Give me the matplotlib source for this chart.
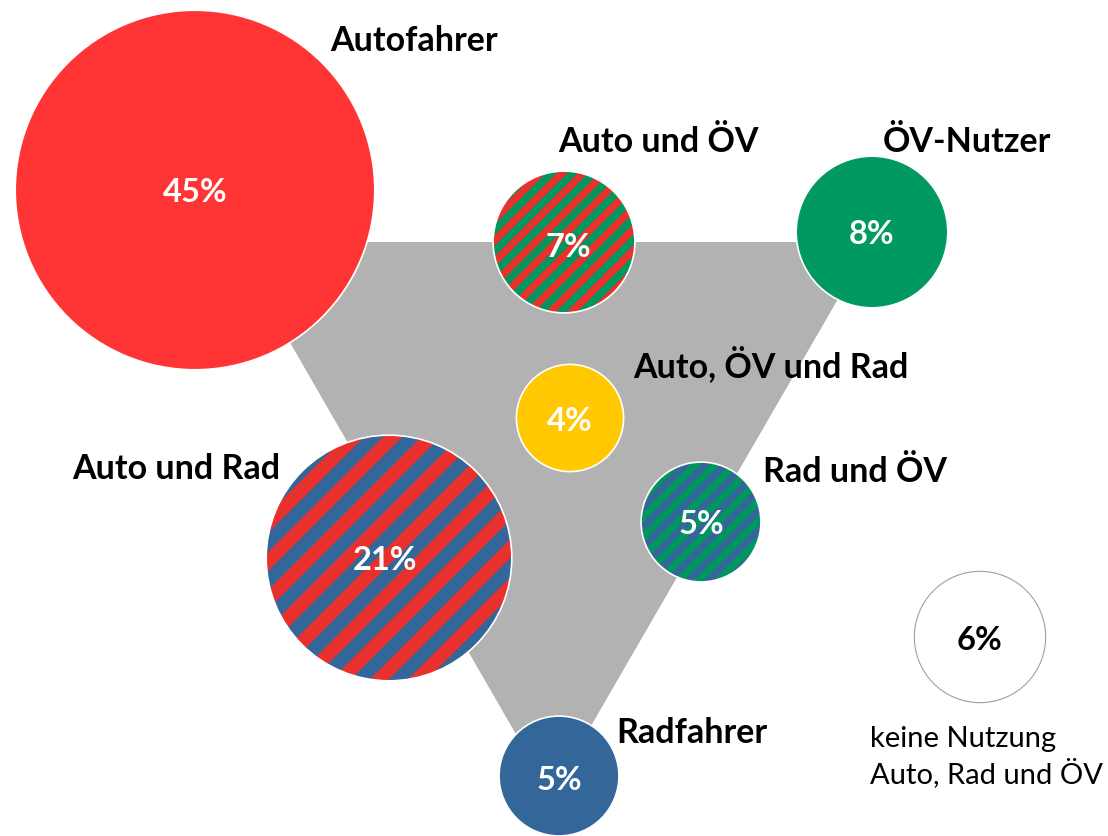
import numpy as np
import matplotlib
import matplotlib.pyplot as plt
from matplotlib.patches import Circle, Polygon

matplotlib.use('agg')

# Werte (Anteile in %) und Beschriftungen
groups = ["Autofahrer", "Auto und ÖV", "ÖV-Nutzer", "Auto, ÖV und Rad",
          "Auto und Rad", "Rad und ÖV", "Radfahrer", "keine Nutzung"]
shares = [45, 7, 8, 4, 21, 5, 5, 6]
colors = [("#FF3535", None), ("#E8312C", "#00975F"), ("#00995F", None),
          ("#FFC800", None), ("#E8312C", "#336699"), ("#336699", "#00975F"),
          ("#336699", None), ("white", None)]

# Layout (Pixelkoordinaten, y nach unten)
centers = [(195, 190), (564, 242), (872, 232), (570, 418),
           (389, 558), (701, 522), (559, 776), (980, 637)]
stripe_period = [0, 15, 0, 0, 27, 14, 0, 0]
pct_pos = [(195, 202), (568, 257), (872, 244), (570, 431),
           (385, 570), (701, 534), (559, 790), (980, 650)]
label_pos = [(330, 51), (558, 152), (883, 152), (633, 377),
             (72, 479), (763, 482), (616, 743)]
triangle = [(232, 242), (871, 242), (551, 795)]

FONT = ['Lato', 'DejaVu Sans']
scale = 26.8  # Radius ~ sqrt(Anteil)

W, H = 1108, 836
fig = plt.figure(figsize=(W / 100, H / 100), dpi=100)
ax = fig.add_axes([0, 0, 1, 1])
ax.set_xlim(0, W)
ax.set_ylim(H, 0)
ax.set_aspect('equal')
ax.axis('off')

ax.add_patch(Polygon(triangle, closed=True, facecolor="#B2B2B2",
                     edgecolor='none', zorder=1))


def striped_circle(cx, cy, r, c1, c2, period):
    circ = Circle((cx, cy), r, facecolor=c1, edgecolor='none', zorder=2)
    ax.add_patch(circ)
    n = np.array([1, 1]) / np.sqrt(2)
    u = np.array([1, -1]) / np.sqrt(2)
    c = np.array([cx, cy])
    L = 1.5 * r
    s = -L
    while s < L:
        s1, s2 = s, s + period / 2
        pts = [c + n * s1 - u * L, c + n * s1 + u * L,
               c + n * s2 + u * L, c + n * s2 - u * L]
        band = Polygon(pts, closed=True, facecolor=c2, edgecolor='none',
                       zorder=3)
        ax.add_patch(band)
        band.set_clip_path(circ)
        s += period
    ax.add_patch(Circle((cx, cy), r, facecolor='none', edgecolor='white',
                        linewidth=1.2, zorder=4))


for i, g in enumerate(groups):
    cx, cy = centers[i]
    r = scale * np.sqrt(shares[i])
    c1, c2 = colors[i]
    if c2 is not None:
        striped_circle(cx, cy, r, c1, c2, stripe_period[i])
    elif g == "keine Nutzung":
        ax.add_patch(Circle((cx, cy), r, facecolor='white', edgecolor='#A0A0A0',
                            linewidth=0.8, zorder=2))
    else:
        ax.add_patch(Circle((cx, cy), r, facecolor=c1, edgecolor='white',
                            linewidth=1.2, zorder=2))
    tc = 'black' if g == "keine Nutzung" else 'white'
    px, py = pct_pos[i]
    ax.text(px, py, f"{shares[i]}%", color=tc, fontsize=23.5, fontweight='bold',
            family=FONT, ha='center', va='baseline', zorder=5)

for i, (lx, ly) in enumerate(label_pos):
    ax.text(lx, ly, groups[i], color='black', fontsize=24.5, fontweight='bold',
            family=FONT, ha='left', va='baseline', zorder=5)

ax.text(870, 747, "keine Nutzung", fontsize=21, family=FONT,
        ha='left', va='baseline', zorder=5)
ax.text(870, 783, "Auto, Rad und ÖV", fontsize=21, family=FONT,
        ha='left', va='baseline', zorder=5)

fig.savefig("out.png", dpi=100)
